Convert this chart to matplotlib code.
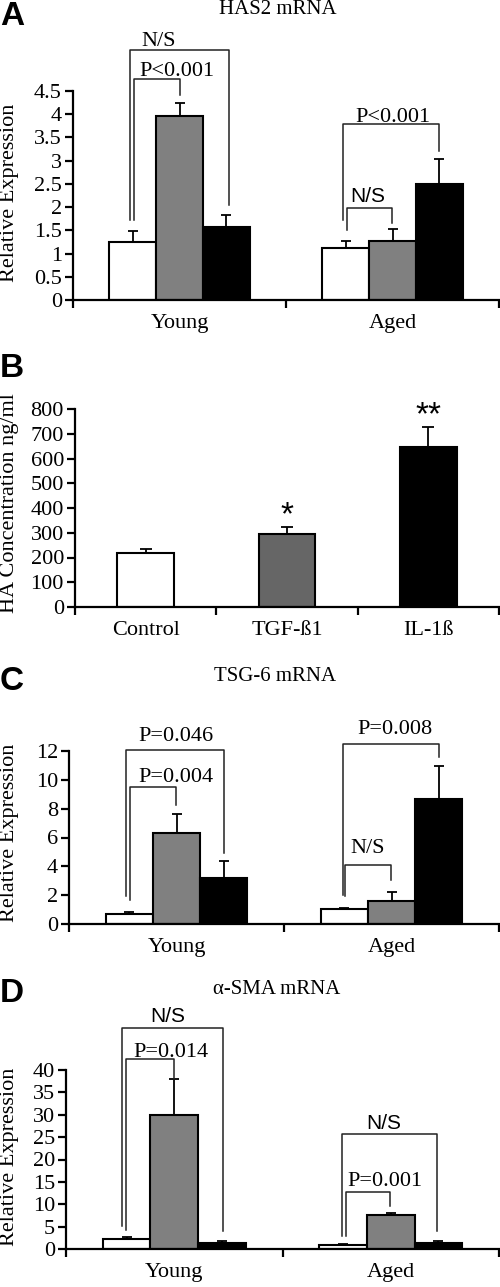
import numpy as np
import matplotlib
matplotlib.use("Agg")
import matplotlib.pyplot as plt

plt.rcParams['font.family'] = ['Liberation Serif', 'DejaVu Serif']

# data
groups = ["Young", "Aged"]
has2_mean = [[1.25, 3.97, 1.58], [1.12, 1.27, 2.49]]
has2_err = [[0.23, 0.27, 0.25], [0.16, 0.25, 0.54]]

ha_labels = ["Control", "TGF-ß1", "IL-1ß"]
ha_mean = [217, 294, 645]
ha_err = [19, 28, 82]
ha_stars = ["", "*", "**"]

tsg6_mean = [[0.71, 6.34, 3.18], [1.04, 1.57, 8.66]]
tsg6_err = [[0.12, 1.28, 1.16], [0.06, 0.67, 2.28]]

sma_mean = [[2.3, 29.96, 1.26], [0.96, 7.5, 1.26]]
sma_err = [[0.38, 8.04, 0.44], [0.14, 0.6, 0.44]]

bar_colors = ["white", "#808080", "black"]
W, H = 500, 1287
FS = 16

# brackets: (x left, y left foot, x right, y right foot, y top, label, label x, label y, sans)
brackets_a = [(-0.232, 1.72, 0.232, 2.05, 5.39, "N/S", -0.1, 5.56, False),
              (-0.214, 1.72, 0.002, 4.42, 4.76, "P<0.001", -0.012, 4.92, False),
              (0.768, 1.72, 1.218, 3.21, 3.79, "P<0.001", 1.002, 3.93, False),
              (0.786, 1.51, 0.998, 1.65, 1.98, "N/S", 0.885, 2.23, True)]
brackets_c = [(-0.235, 1.91, 0.221, 4.94, 12.07, "P=0.046", -0.002, 13.0, False),
              (-0.216, 1.68, -0.002, 8.26, 9.53, "P=0.004", -0.002, 10.15, False),
              (0.774, 2.03, 1.221, 11.57, 12.47, "P=0.008", 1.016, 13.46, False),
              (0.784, 1.91, 0.998, 3.07, 4.11, "N/S", 0.891, 5.21, False)]
brackets_d = [(-0.241, 5.04, 0.225, 3.93, 49.3, "N/S", -0.029, 51.9, True),
              (-0.223, 4.3, -0.001, 38.1, 42.4, "P=0.014", -0.015, 44.0, False),
              (0.775, 2.81, 1.214, 3.93, 25.65, "N/S", 0.969, 28.1, True),
              (0.793, 2.81, 0.997, 9.5, 12.63, "P=0.001", 0.973, 15.0, False)]


def px_axes(fig, left, right, top, bottom):
    return fig.add_axes([left / W, 1 - bottom / H, (right - left) / W, (bottom - top) / H])


def style_axes(ax, ncat, labels, ymax, step):
    for s in ["top", "right"]:
        ax.spines[s].set_visible(False)
    for s in ["left", "bottom"]:
        ax.spines[s].set_linewidth(1.6)
    ax.set_xlim(-0.5, ncat - 0.5)
    ax.set_ylim(0, ymax)
    ax.set_yticks(np.arange(0, ymax + step / 2, step))
    ax.set_yticklabels([f"{v:g}" for v in np.arange(0, ymax + step / 2, step)])
    ax.set_xticks(np.arange(-0.5, ncat, 1.0))
    ax.set_xticklabels([])
    ax.set_xticks(np.arange(ncat), minor=True)
    ax.set_xticklabels(labels, minor=True)
    ax.tick_params(axis="x", which="major", length=6, width=1.6, direction="out")
    ax.tick_params(axis="x", which="minor", length=0, pad=10, labelsize=FS)
    ax.tick_params(axis="y", length=6, width=1.6, direction="out", labelsize=FS, pad=2)


def grouped(ax, means, errs):
    offs = [-0.22, 0.0, 0.22]
    for j in range(3):
        xs = np.arange(len(means)) + offs[j]
        vals = [m[j] for m in means]
        es = [e[j] for e in errs]
        ax.bar(xs, vals, 0.22, color=bar_colors[j], edgecolor="black", linewidth=1.5, zorder=2)
        ax.errorbar(xs, vals, yerr=[np.zeros(len(es)), es], fmt="none", ecolor="black",
                    elinewidth=1.3, capsize=3.5, capthick=1.3, zorder=3)


def draw_brackets(ax, specs):
    for xl, yl, xr, yr, yt, lab, lx, ly, sans in specs:
        ax.plot([xl, xl, xr, xr], [yl, yt, yt, yr], color="#222222", lw=1.1,
                clip_on=False, zorder=4)
        fam = ["Liberation Sans"] if sans else ["Liberation Serif"]
        ax.text(lx, ly, lab, ha="center", va="center", fontsize=FS - 1 if sans else FS,
                family=fam, clip_on=False, zorder=5)


fig = plt.figure(figsize=(W / 100, H / 100), dpi=100)

# A
axA = px_axes(fig, 73, 499, 91, 300)
grouped(axA, has2_mean, has2_err)
style_axes(axA, 2, groups, 4.5, 0.5)
draw_brackets(axA, brackets_a)
fig.text(278 / W, 1 - 10 / H, "HAS2 mRNA", ha="center", va="center", fontsize=FS - 1)
fig.text(10 / W, 1 - 193 / H, "Relative Expression", rotation=90, ha="center", va="center", fontsize=FS)

# B
axB = px_axes(fig, 75, 499, 409, 607)
xb = np.arange(len(ha_mean))
axB.bar(xb, ha_mean, 0.4, color=["white", "#666666", "black"], edgecolor="black", linewidth=1.5, zorder=2)
axB.errorbar(xb, ha_mean, yerr=[np.zeros(3), ha_err], fmt="none", ecolor="black",
             elinewidth=1.3, capsize=4, capthick=1.3, zorder=3)
style_axes(axB, 3, ha_labels, 800, 100)
for i, s in enumerate(ha_stars):
    if s:
        axB.text(xb[i], ha_mean[i] + ha_err[i] + 45, s, ha="center", va="center",
                 fontsize=24, family=["Liberation Sans"], clip_on=False)
fig.text(10 / W, 1 - 503 / H, "HA Concentration ng/ml", rotation=90, ha="center", va="center", fontsize=FS)

# C
axC = px_axes(fig, 69, 499, 751, 924)
grouped(axC, tsg6_mean, tsg6_err)
style_axes(axC, 2, groups, 12, 2)
draw_brackets(axC, brackets_c)
fig.text(275 / W, 1 - 676 / H, "TSG-6 mRNA", ha="center", va="center", fontsize=FS - 1)
fig.text(10 / W, 1 - 833 / H, "Relative Expression", rotation=90, ha="center", va="center", fontsize=FS)

# D
axD = px_axes(fig, 66, 499, 1070, 1249)
grouped(axD, sma_mean, sma_err)
style_axes(axD, 2, groups, 40, 5)
draw_brackets(axD, brackets_d)
fig.text(277 / W, 1 - 990 / H, "α-SMA mRNA", ha="center", va="center", fontsize=FS - 1)
fig.text(10 / W, 1 - 1157 / H, "Relative Expression", rotation=90, ha="center", va="center", fontsize=FS)

# panel letters
for lab, ypx in [("A", 1), ("B", 353), ("C", 666), ("D", 978)]:
    fig.text(0, 1 - ypx / H, lab, ha="left", va="top", fontsize=24,
             fontweight="bold", family=["Liberation Sans"])

fig.savefig("out.png", dpi=100)
